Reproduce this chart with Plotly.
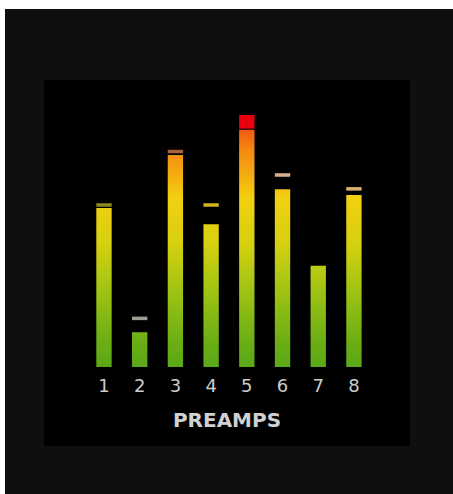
import plotly.graph_objects as go

# ---- data ----
channels = ["1", "2", "3", "4", "5", "6", "7", "8"]
positions = [1, 2, 3, 4, 5, 6, 7, 8]
levels = [63.1, 13.8, 84.1, 56.7, 94.2, 70.5, 40.2, 68.3]          # current meter level (0-100)
peaks = [64.3, 19.3, 85.5, 64.3, None, 76.2, None, 70.7]            # peak-hold markers
peak_colors = ["#8e8a1e", "#9e9e90", "#a8603e", "#d2b420", "#000000",
               "#d8b08e", "#000000", "#d6b26a"]
clip = [False, False, False, False, True, False, False, False]      # clip indicator lit

# ---- style constants ----
FULL_SCALE = 100
CLIP_START = 94.6
BAR_W = 0.43
PEAK_H = 1.4
METER_SCALE = [
    [0.00, "#5aa818"],
    [0.10, "#6cae14"],
    [0.23, "#8cbc14"],
    [0.36, "#b0c812"],
    [0.49, "#d6d010"],
    [0.67, "#f2d010"],
    [0.75, "#f5b010"],
    [0.86, "#f58a10"],
    [0.94, "#f25a10"],
    [1.00, "#ee4010"],
]

fig = go.Figure()

# level bars with a position-based vertical gradient
for xc, v in zip(positions, levels):
    fig.add_trace(go.Scatter(
        x=[xc - BAR_W / 2, xc + BAR_W / 2, xc + BAR_W / 2, xc - BAR_W / 2, xc - BAR_W / 2],
        y=[0, 0, v, v, 0],
        mode="lines", line=dict(width=0), fill="toself",
        fillgradient=dict(type="vertical", colorscale=METER_SCALE, start=0, stop=FULL_SCALE),
        hoverinfo="skip", showlegend=False,
    ))

# peak-hold markers
fig.add_trace(go.Bar(
    x=positions,
    y=[PEAK_H if p is not None else 0 for p in peaks],
    base=[p - PEAK_H / 2 if p is not None else 0 for p in peaks],
    width=BAR_W,
    marker=dict(color=peak_colors, line=dict(width=0)),
    hoverinfo="skip", showlegend=False,
))

# clip indicator
fig.add_trace(go.Bar(
    x=[x for x, c in zip(positions, clip) if c],
    y=[FULL_SCALE - CLIP_START for c in clip if c],
    base=[CLIP_START for c in clip if c],
    width=BAR_W,
    marker=dict(color="#e8000e", line=dict(width=0)),
    hoverinfo="skip", showlegend=False,
))

# plot area: x 44..410 px, y 80..367 px
fig.update_layout(
    width=453, height=494,
    margin=dict(l=44, r=43, t=80, b=127, pad=0),
    paper_bgcolor="#0f0f0f",
    plot_bgcolor="rgba(0,0,0,0)",
    barmode="overlay",
    showlegend=False,
    hovermode=False,
    shapes=[
        # white strips at the top and left edges
        dict(type="rect", xref="paper", yref="paper", x0=-0.3, x1=1.3, y0=1.247, y1=1.6,
             fillcolor="#ffffff", line=dict(width=0), layer="below"),
        dict(type="rect", xref="paper", yref="paper", x0=-0.3, x1=-0.1066, y0=-0.6, y1=1.6,
             fillcolor="#ffffff", line=dict(width=0), layer="below"),
        # black meter panel
        dict(type="rect", xref="paper", yref="paper", x0=0, x1=1, y0=-0.275, y1=1,
             fillcolor="#000000", line=dict(width=0), layer="below"),
    ],
    xaxis=dict(
        range=[-0.68, 9.57], tickvals=positions, ticktext=channels,
        showgrid=False, zeroline=False, showline=False, ticks="",
        tickfont=dict(family="DejaVu Sans", size=18, color="#cccccc"),
        ticklabelstandoff=6,
        title=dict(text="<b>PREAMPS</b>", standoff=17,
                   font=dict(family="DejaVu Sans", size=20, color="#d0d0d0")),
        fixedrange=True,
    ),
    yaxis=dict(
        range=[0, 113.9], showgrid=False, zeroline=False, showline=False,
        showticklabels=False, ticks="", fixedrange=True,
    ),
)

fig.write_html(
    "out.html",
    config={"displayModeBar": False},
    post_script=(
        "var h=document.documentElement, b=document.body;"
        "h.style.margin='0'; h.style.padding='0'; h.style.overflow='hidden'; h.style.background='#0f0f0f';"
        "b.style.margin='0'; b.style.padding='0'; b.style.overflow='hidden'; b.style.background='#0f0f0f';"
    ),
)
